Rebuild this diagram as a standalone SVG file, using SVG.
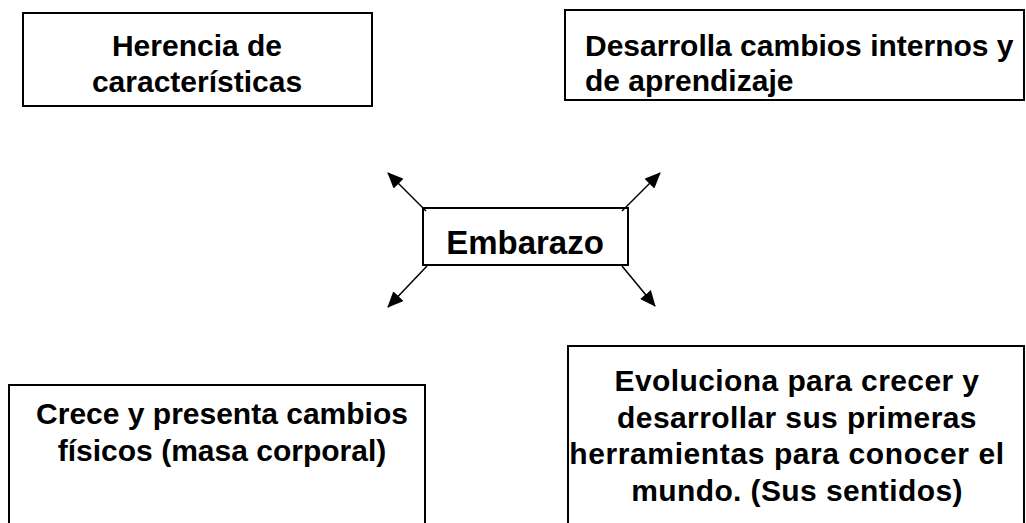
<svg xmlns="http://www.w3.org/2000/svg" width="1026" height="523" viewBox="0 0 1026 523">
<style>
.box{fill:#fff;stroke:#000;stroke-width:2}
.t{font-family:"Liberation Sans",Arial,sans-serif;font-weight:bold;font-size:30px;fill:#000}
.c{text-anchor:middle}
.big{font-size:33px}
.con{stroke:#000;stroke-width:1.5;fill:none}
</style>
<defs>
<marker id="ah2" viewBox="0 0 16 14" refX="15" refY="7" markerWidth="16" markerHeight="14" markerUnits="userSpaceOnUse" orient="auto">
<path d="M0,0 L16,7 L0,14 z" fill="#000"/>
</marker>
</defs>
<rect width="1026" height="523" fill="#fff"/>
<g id="n-herencia">
<rect class="box" x="23" y="13" width="349" height="93"/>
<text class="t c" x="197" y="56">Herencia de</text>
<text class="t c" x="197" y="92">características</text>
</g>
<g id="n-desarrolla">
<rect class="box" x="565" y="10" width="459" height="90"/>
<text class="t" x="585" y="56">Desarrolla cambios internos y</text>
<text class="t" x="585" y="91">de aprendizaje</text>
</g>
<g id="n-embarazo">
<rect class="box" x="423" y="208" width="205" height="57"/>
<text class="t c big" x="525" y="254">Embarazo</text>
</g>
<g id="n-crece">
<rect class="box" x="9" y="385" width="416" height="150"/>
<text class="t c" x="222" y="424">Crece y presenta cambios</text>
<text class="t c" x="222" y="461">físicos (masa corporal)</text>
</g>
<g id="n-evoluciona">
<rect class="box" x="568" y="346" width="456" height="190"/>
<text class="t c" x="797" y="391" letter-spacing="0.4">Evoluciona para crecer y</text>
<text class="t c" x="797" y="428" letter-spacing="0.4">desarrollar sus primeras</text>
<text class="t c" x="787" y="464" letter-spacing="0.6">herramientas para conocer el</text>
<text class="t c" x="797" y="501" letter-spacing="0.4">mundo. (Sus sentidos)</text>
</g>
<g id="connectors">
<line class="con" x1="426" y1="211" x2="388" y2="173" marker-end="url(#ah2)"/>
<line class="con" x1="622" y1="211" x2="660" y2="173" marker-end="url(#ah2)"/>
<line class="con" x1="427" y1="266" x2="388" y2="307" marker-end="url(#ah2)"/>
<line class="con" x1="622" y1="266" x2="655" y2="306" marker-end="url(#ah2)"/>
</g>
</svg>
